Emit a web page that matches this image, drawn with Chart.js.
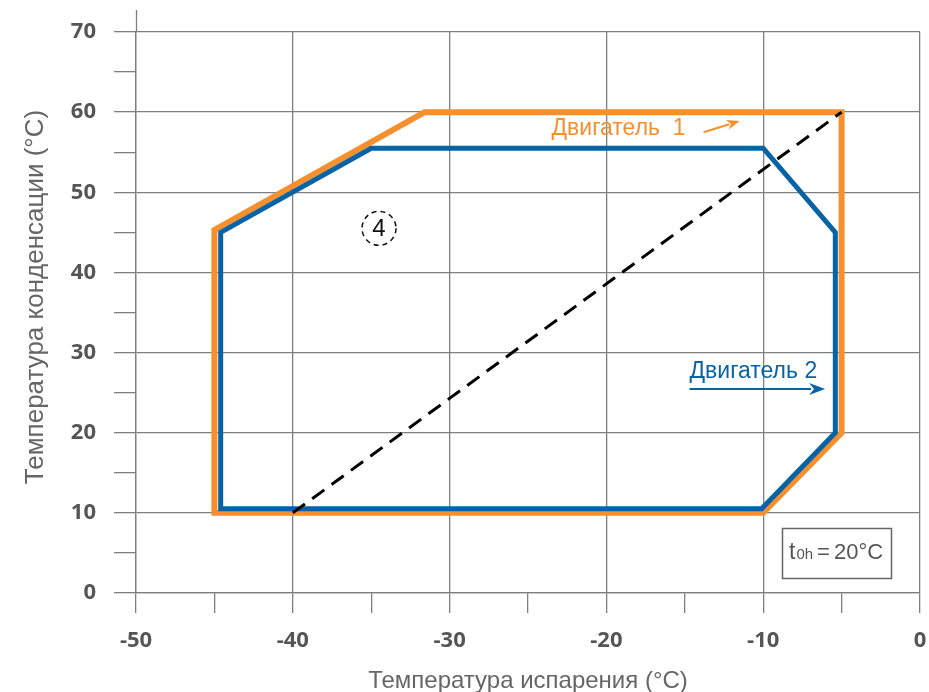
<!DOCTYPE html>
<html>
<head>
<meta charset="utf-8">
<script src="https://cdn.jsdelivr.net/npm/chart.js@4.4.0/dist/chart.umd.min.js"></script>
<style>
  html, body { margin: 0; padding: 0; background: #fff; }
  #wrap { width: 929px; height: 692px; }
</style>
</head>
<body>
<div id="wrap"><canvas id="chart"></canvas></div>
<script>
// Двигатель 1 (оранжевый контур)
var engine1X = [-45, -45, -31.6, -5, -5, -10, -45];
var engine1Y = [10, 45.3, 60, 60, 20, 10, 10];
// Двигатель 2 (синий контур)
var engine2X = [-44.6, -44.6, -35, -10, -5.4, -5.4, -10.1, -44.6];
var engine2Y = [10.5, 45, 55.5, 55.5, 45, 20, 10.5, 10.5];
// пунктирная диагональ
var diagX = [-40, -5];
var diagY = [10, 60];

var xTicks = [-50, -40, -30, -20, -10, 0];
var yTicks = [0, 10, 20, 30, 40, 50, 60, 70];

var xTitle = 'Температура испарения (°C)';
var yTitle = 'Температура конденсации (°C)';
var label1 = 'Двигатель  1';
var label2 = 'Двигатель 2';
var zoneLabel = '4';

var ORANGE = '#f68f2e';
var BLUE = '#0664a6';
var GRID = '#7f7f7f';
var SANS = '"Liberation Sans", Arial, sans-serif';

function pts(xs, ys) {
  return xs.map(function (x, i) { return { x: x, y: ys[i] }; });
}

function arrow(ctx, x1, y1, x2, y2, color, lw, hl, hw) {
  var a = Math.atan2(y2 - y1, x2 - x1);
  var bx = x2 - hl * Math.cos(a), by = y2 - hl * Math.sin(a);
  ctx.strokeStyle = color;
  ctx.fillStyle = color;
  ctx.lineWidth = lw;
  ctx.beginPath();
  ctx.moveTo(x1, y1);
  ctx.lineTo(bx + 2 * Math.cos(a), by + 2 * Math.sin(a));
  ctx.stroke();
  ctx.beginPath();
  ctx.moveTo(x2, y2);
  ctx.lineTo(bx - hw * Math.sin(a), by + hw * Math.cos(a));
  ctx.lineTo(bx + hl * 0.3 * Math.cos(a), by + hl * 0.3 * Math.sin(a));
  ctx.lineTo(bx + hw * Math.sin(a), by - hw * Math.cos(a));
  ctx.closePath();
  ctx.fill();
}

var extras = {
  id: 'extras',
  afterDraw: function (chart) {
    var ctx = chart.ctx;
    var xs = chart.scales.x, ys = chart.scales.y;
    var X = function (v) { return xs.getPixelForValue(v); };
    var Y = function (v) { return ys.getPixelForValue(v); };
    var area = chart.chartArea;
    ctx.save();

    // y axis line goes a bit above the plot
    ctx.strokeStyle = GRID;
    ctx.lineWidth = 1.3;
    ctx.beginPath();
    ctx.moveTo(Math.round(area.left) + 0.5, 10);
    ctx.lineTo(Math.round(area.left) + 0.5, area.top);
    ctx.stroke();

    // y title
    ctx.save();
    ctx.translate(36, 297);
    ctx.rotate(-Math.PI / 2);
    ctx.fillStyle = '#666';
    ctx.font = '26px ' + SANS;
    ctx.textAlign = 'center';
    ctx.textBaseline = 'middle';
    ctx.fillText(yTitle, 0, 0);
    ctx.restore();

    // labels
    ctx.font = '23px ' + SANS;
    ctx.textBaseline = 'alphabetic';
    ctx.textAlign = 'left';
    ctx.fillStyle = ORANGE;
    ctx.fillText(label1, X(-23.5), Y(57.2));
    arrow(ctx, X(-13.8), Y(57.5), X(-11.5), Y(58.9), ORANGE, 2, 13, 5);

    ctx.fillStyle = BLUE;
    ctx.fillText(label2, X(-14.7), Y(26.8));
    arrow(ctx, X(-14.7), Y(25.45), X(-6.05), Y(25.45), BLUE, 2, 16, 6);

    // zone marker
    ctx.strokeStyle = '#111';
    ctx.lineWidth = 1.5;
    ctx.setLineDash([5, 4]);
    ctx.beginPath();
    ctx.arc(X(-34.5), Y(45.5), 17, 0, Math.PI * 2);
    ctx.stroke();
    ctx.setLineDash([]);
    ctx.fillStyle = '#111';
    ctx.font = '24px ' + SANS;
    ctx.textAlign = 'center';
    ctx.textBaseline = 'middle';
    ctx.fillText(zoneLabel, X(-34.5), Y(45.5) + 1);

    // t0h box
    var bl = X(-8.8), bt = Y(8.1), br = X(-1.85), bb = Y(1.85);
    ctx.strokeStyle = '#666';
    ctx.lineWidth = 1.5;
    ctx.strokeRect(Math.round(bl) + 0.5, Math.round(bt) + 0.5, Math.round(br - bl), Math.round(bb - bt));
    ctx.fillStyle = '#555';
    ctx.textAlign = 'left';
    ctx.textBaseline = 'alphabetic';
    var tx = bl + 7, ty = bt + 31;
    ctx.font = '23px ' + SANS;
    ctx.fillText('t', tx, ty);
    tx += ctx.measureText('t').width + 1;
    ctx.font = '15px ' + SANS;
    ctx.fillText('0h', tx, ty);
    tx += ctx.measureText('0h').width + 4;
    ctx.font = '22px ' + SANS;
    ctx.fillText('=', tx, ty);
    tx += ctx.measureText('=').width + 4;
    ctx.fillText('20°C', tx, ty);

    ctx.restore();
  }
};

var ctx = document.getElementById('chart').getContext('2d');
var myChart = new Chart(ctx, {
  type: 'scatter',
  data: {
    datasets: [{
      label: 'diag',
      data: pts(diagX, diagY),
      showLine: true,
      borderColor: '#000',
      borderWidth: 3,
      borderDash: [15, 9],
      pointRadius: 0,
      fill: false
    }, {
      label: label2,
      data: pts(engine2X, engine2Y),
      showLine: true,
      borderColor: BLUE,
      borderWidth: 5,
      borderJoinStyle: 'miter',
      borderCapStyle: 'square',
      pointRadius: 0,
      fill: false
    }, {
      label: label1,
      data: pts(engine1X, engine1Y),
      showLine: true,
      borderColor: ORANGE,
      borderWidth: 6,
      borderJoinStyle: 'miter',
      borderCapStyle: 'square',
      pointRadius: 0,
      fill: false
    }]
  },
  options: {
    responsive: true,
    maintainAspectRatio: false,
    animation: false,
    layout: { padding: { top: 32, right: 9, left: 0, bottom: 0 } },
    plugins: {
      legend: { display: false },
      tooltip: { enabled: false }
    },
    scales: {
      x: {
        type: 'linear',
        min: -50,
        max: 0,
        afterFit: function (s) { s.height = 99; s.paddingLeft = 0; s.paddingRight = 0; },
        ticks: {
          stepSize: 5,
          autoSkip: false,
          maxRotation: 0,
          padding: 15,
          color: '#555',
          font: { family: '"Open Sans", sans-serif', size: 22, weight: 'bold' },
          callback: function (v) { return xTicks.indexOf(v) >= 0 ? String(v) : ''; }
        },
        grid: {
          lineWidth: 1.3,
          tickLength: 20,
          tickColor: GRID,
          color: function (c) { return c.tick && c.tick.value % 10 === 0 ? GRID : 'rgba(0,0,0,0)'; }
        },
        border: { display: true, color: GRID, width: 1.3 },
        title: {
          display: true,
          text: xTitle,
          color: '#666',
          font: { family: SANS, size: 24 },
          padding: { top: 0, bottom: -4 }
        }
      },
      y: {
        type: 'linear',
        min: 0,
        max: 70,
        afterFit: function (s) { s.width = 136; s.paddingTop = 0; s.paddingBottom = 0; },
        ticks: {
          stepSize: 5,
          autoSkip: false,
          padding: 18,
          color: '#555',
          font: { family: '"Open Sans", sans-serif', size: 22, weight: 'bold' },
          callback: function (v) { return yTicks.indexOf(v) >= 0 ? String(v) : ''; }
        },
        grid: {
          lineWidth: 1.3,
          tickLength: 22,
          tickColor: GRID,
          color: function (c) { return c.tick && c.tick.value % 10 === 0 ? GRID : 'rgba(0,0,0,0)'; }
        },
        border: { display: true, color: GRID, width: 1.3 }
      }
    }
  },
  plugins: [extras]
});
</script>
</body>
</html>
